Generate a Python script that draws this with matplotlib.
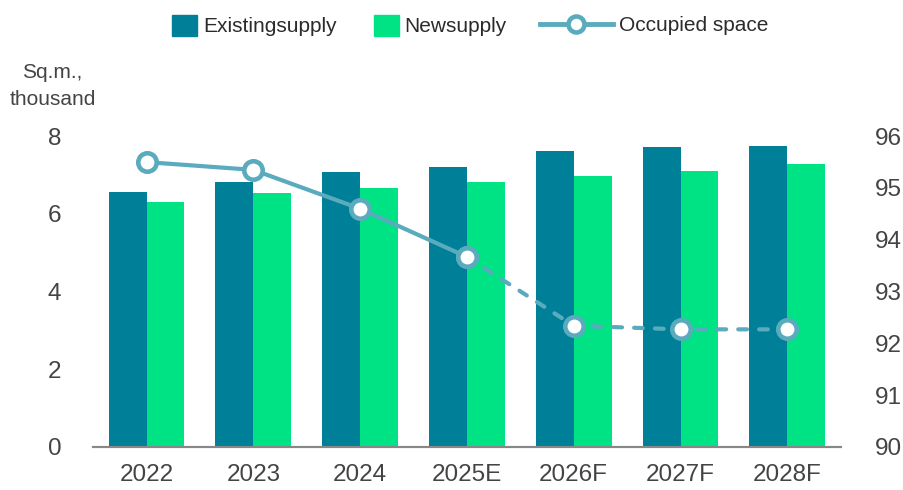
import matplotlib
matplotlib.use("Agg")
import matplotlib.pyplot as plt
from matplotlib.lines import Line2D
from matplotlib.patches import Patch
import numpy as np

years = ["2022", "2023", "2024", "2025E", "2026F", "2027F", "2028F"]
existing_supply = [6.56, 6.81, 7.07, 7.22, 7.61, 7.71, 7.74]
new_supply = [6.30, 6.53, 6.66, 6.81, 6.97, 7.10, 7.28]
occupied = [95.5, 95.35, 94.6, 93.67, 92.34, 92.27, 92.27]
n_actual = 4  # solid up to 2025E, dashed after

C_EXIST = "#007F99"
C_NEW = "#00E384"
C_LINE = "#5BABBE"
C_TEXT = "#444444"

plt.rcParams["font.family"] = ["Liberation Sans", "DejaVu Sans"]

fig = plt.figure(figsize=(9.04, 4.9), dpi=100)
ax = fig.add_axes([0.103, 0.088, 0.827, 0.634])
ax2 = ax.twinx()

x = np.arange(len(years))
w = 0.355
ax.bar(x - w / 2, existing_supply, w, color=C_EXIST, zorder=2)
ax.bar(x + w / 2, new_supply, w, color=C_NEW, zorder=2)

line_kw = dict(color=C_LINE, lw=3, marker="o", markersize=13.3,
               markerfacecolor="white", markeredgecolor=C_LINE, markeredgewidth=3.3)
ax2.plot(x[n_actual - 1:], occupied[n_actual - 1:], ls=(0, (2.1, 2.9)),
         dash_capstyle="round", **line_kw)
ax2.plot(x[:n_actual], occupied[:n_actual], ls="-", **line_kw)

ax.set_xlim(-0.5, 6.5)
ax.set_ylim(0, 8)
ax2.set_ylim(90, 96)
ax.set_yticks([0, 2, 4, 6, 8])
ax2.set_yticks(range(90, 97))
ax.set_xticks(x)
ax.set_xticklabels(years)

for a in (ax, ax2):
    for s in ("top", "left", "right"):
        a.spines[s].set_visible(False)
    a.spines["bottom"].set_color("#888888")
    a.spines["bottom"].set_linewidth(1.5)
    a.tick_params(length=0, labelsize=17.5, colors=C_TEXT)
ax.tick_params(axis="x", pad=12)
ax.tick_params(axis="y", pad=23)
ax2.tick_params(axis="y", pad=24.5)

fig.text(0.058, 0.824, "Sq.m.,\nthousand", ha="center", va="center",
         fontsize=15, color=C_TEXT, linespacing=1.5)

leg_kw = dict(loc="center left", frameon=False, fontsize=15, borderpad=0,
              borderaxespad=0, handletextpad=0.29)
leg1 = fig.legend([Patch(color=C_EXIST), Patch(color=C_NEW)],
                  ["Existingsupply", "Newsupply"], ncol=2,
                  bbox_to_anchor=(0.190, 0.948), handlelength=1.2,
                  handleheight=1.2, columnspacing=1.78, **leg_kw)
leg2 = fig.legend([Line2D([], [], color=C_LINE, lw=3.5, marker="o", markersize=11.5,
                          markerfacecolor="white", markeredgecolor=C_LINE,
                          markeredgewidth=3.3)],
                  ["Occupied space"], bbox_to_anchor=(0.597, 0.948),
                  handlelength=3.5, **leg_kw)
for leg in (leg1, leg2):
    for t in leg.get_texts():
        t.set_color("#2b2b2b")

fig.savefig("out.png", dpi=100)
